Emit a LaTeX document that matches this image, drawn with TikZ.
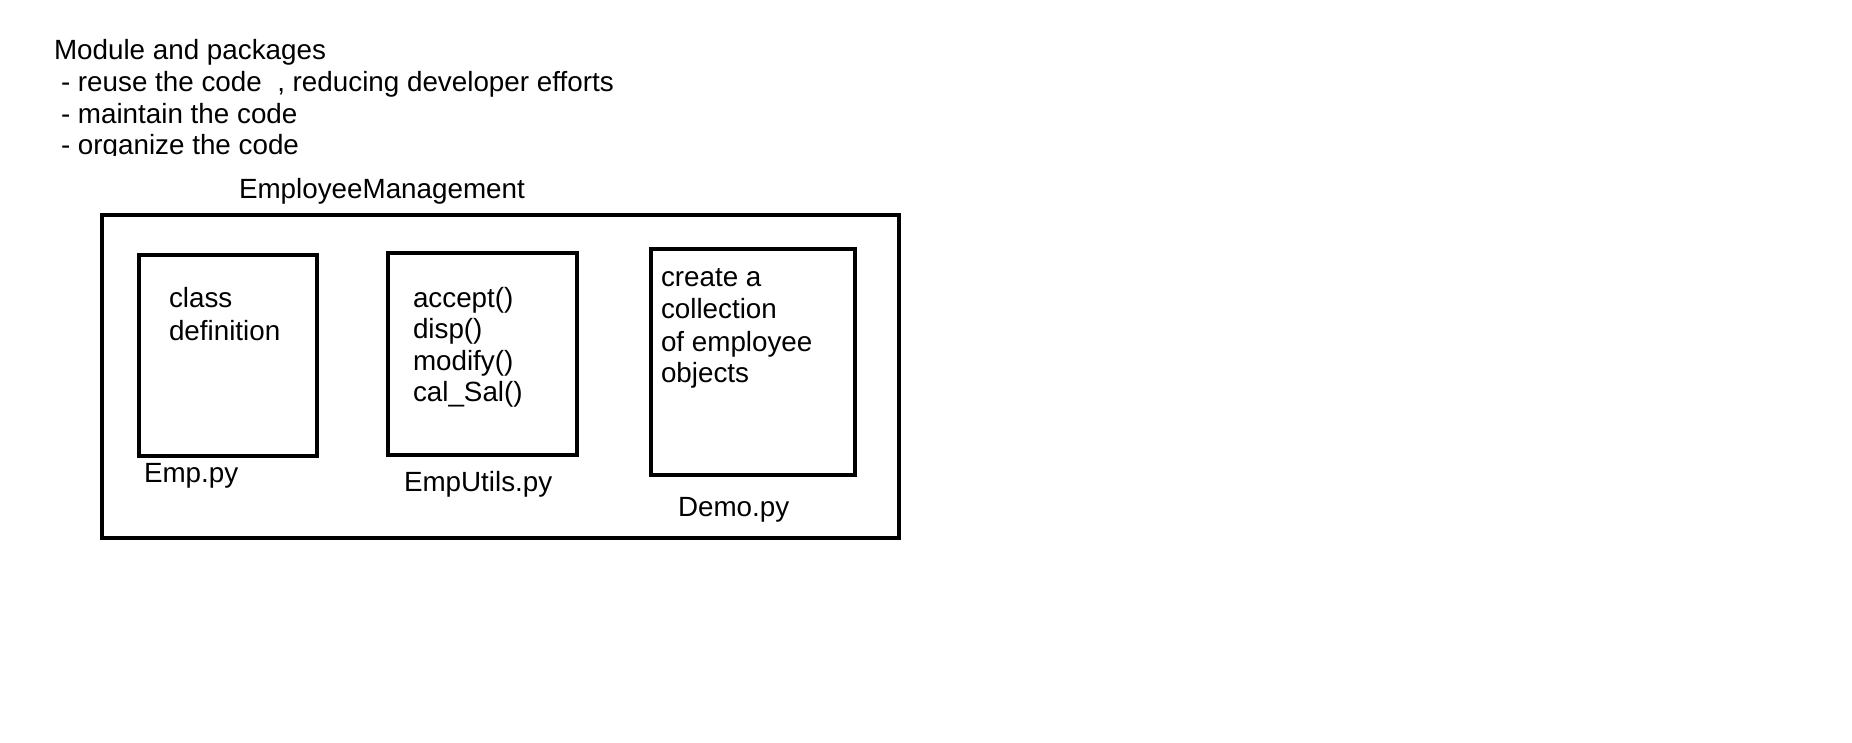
\documentclass[tikz,border=0pt]{standalone}
\usepackage{fontspec}
\setmainfont{Liberation Sans}
\begin{document}
\begin{tikzpicture}[x=1pt,y=-1pt,
  txt/.style={anchor=base west,inner sep=0pt,outer sep=0pt,font=\fontsize{27.8}{32}\selectfont},
  box/.style={draw=black,line width=4.5pt,fill=none,inner sep=0pt,outer sep=0pt}]
\useasboundingbox[fill=white] (0,0) rectangle (1852,743);
\begin{scope}
\clip (0,0) rectangle (1852,156);
\node[txt] (h0) at (54,60) {Module and packages};
\node[txt] (h1) at (61,92) {- reuse the code\ \ , reducing developer efforts};
\node[txt] (h2) at (61,124) {- maintain the code};
\node[txt] (h3) at (61,155) {- organize the code};
\end{scope}
\node[txt] (title) at (239,199) {EmployeeManagement};
\node[box,minimum width=797pt,minimum height=323pt] (outer) at (500.5,376.5) {};
\node[box,minimum width=178pt,minimum height=201pt] (emp) at (228,355.5) {};
\node[box,minimum width=189pt,minimum height=202pt] (utils) at (482.5,354) {};
\node[box,minimum width=204pt,minimum height=226pt] (demo) at (753,362) {};
\node[txt] (e1) at (169,307) {class};
\node[txt] (e2) at (169,340) {definition};
\node[txt] (el) at (144,482) {Emp.py};
\node[txt] (u1) at (413,307) {accept()};
\node[txt] (u2) at (413,338) {disp()};
\node[txt] (u3) at (413,370) {modify()};
\node[txt] (u4) at (413,401) {cal\_Sal()};
\node[txt] (ul) at (404,491) {EmpUtils.py};
\node[txt] (d1) at (661,287) {create a};
\node[txt] (d2) at (661,319) {collection};
\node[txt] (d3) at (661,351) {of employee};
\node[txt] (d4) at (661,382) {objects};
\node[txt] (dl) at (678,516) {Demo.py};
\end{tikzpicture}
\end{document}
